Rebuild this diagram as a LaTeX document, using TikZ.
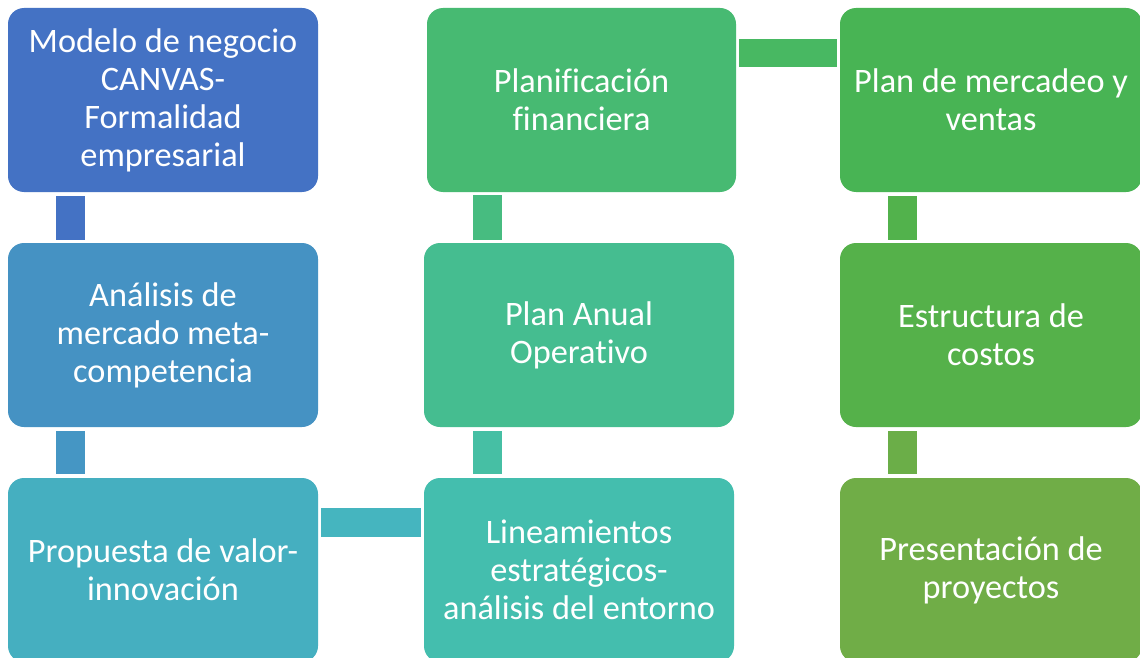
\documentclass[tikz,border=0pt]{standalone}
\usepackage{fontspec}
\setmainfont[Ligatures={NoCommon,NoRequired,NoContextual}]{Carlito}
\usetikzlibrary{calc}
\definecolor{cA}{HTML}{4472C4}
\definecolor{cB}{HTML}{4592C3}
\definecolor{cC}{HTML}{45AFC0}
\definecolor{cD}{HTML}{44BEAE}
\definecolor{cE}{HTML}{45BD90}
\definecolor{cF}{HTML}{47BA72}
\definecolor{cG}{HTML}{48B454}
\definecolor{cH}{HTML}{55B14A}
\definecolor{cI}{HTML}{70AD47}
\definecolor{kA}{HTML}{4472C4}
\definecolor{kB}{HTML}{4596C4}
\definecolor{kC}{HTML}{45B5BF}
\definecolor{kD}{HTML}{46BFA4}
\definecolor{kE}{HTML}{47BC80}
\definecolor{kF}{HTML}{48B862}
\definecolor{kG}{HTML}{52B24C}
\definecolor{kH}{HTML}{6BAE48}
\begin{document}
\begin{tikzpicture}[x=1pt,y=-1pt,
  stagebox/.style={rectangle, rounded corners=16pt, anchor=north west, inner sep=0pt, outer sep=0pt,
    minimum height=184pt, text=white, align=center, font=\fontsize{34.3}{38}\selectfont},
  bar/.style={line width=29pt, line cap=butt}]
\useasboundingbox (0,0) rectangle (1140,658);
\fill[white] (0,0) rectangle (1140,658);
% boxes
\node[stagebox, fill=cA, minimum width=310pt] (b1) at (8,8) {Modelo de negocio\\CANVAS-\\Formalidad\\empresarial};
\node[stagebox, fill=cB, minimum width=310pt] (b2) at (8,243) {Análisis de\\mercado meta-\\competencia};
\node[stagebox, fill=cC, minimum width=310pt] (b3) at (8,478) {Propuesta de valor-\\innovación};
\node[stagebox, fill=cD, minimum width=310pt] (b4) at (424,478) {Lineamientos\\estratégicos-\\análisis del entorno};
\node[stagebox, fill=cE, minimum width=310pt] (b5) at (424,243) {Plan Anual\\Operativo};
\node[stagebox, fill=cF, minimum width=309pt] (b6) at (427,8) {Planificación\\financiera};
\node[stagebox, fill=cG, minimum width=302pt] (b7) at (840,8) {Plan de mercadeo y\\ventas};
\node[stagebox, fill=cH, minimum width=302pt] (b8) at (840,243) {Estructura de\\costos};
\node[stagebox, fill=cI, minimum width=302pt] (b9) at (840,478) {Presentación de\\proyectos};
% connectors
\draw[bar, draw=kA] ($(b1.south west)+(62.5,4)$) -- ($(b2.north west)+(62.5,-3)$);
\draw[bar, draw=kB] ($(b2.south west)+(62.5,4)$) -- ($(b3.north west)+(62.5,-4)$);
\draw[bar, draw=kC] ($(b3.north east)+(3,44.5)$) -- ($(b4.north west)+(-3,44.5)$);
\draw[bar, draw=kD] ($(b4.north west)+(63,-4)$) -- ($(b5.south west)+(63,4)$);
\draw[bar, draw=kE] ($(b5.north west)+(63,-3)$) -- ($(b6.south west)+(60,3)$);
\draw[bar, draw=kF, line width=28pt] ($(b6.north east)+(3,45)$) -- ($(b7.north west)+(-3,45)$);
\draw[bar, draw=kG] ($(b7.south west)+(62.5,4)$) -- ($(b8.north west)+(62.5,-3)$);
\draw[bar, draw=kH] ($(b8.south west)+(62.5,4)$) -- ($(b9.north west)+(62.5,-4)$);
\end{tikzpicture}
\end{document}
